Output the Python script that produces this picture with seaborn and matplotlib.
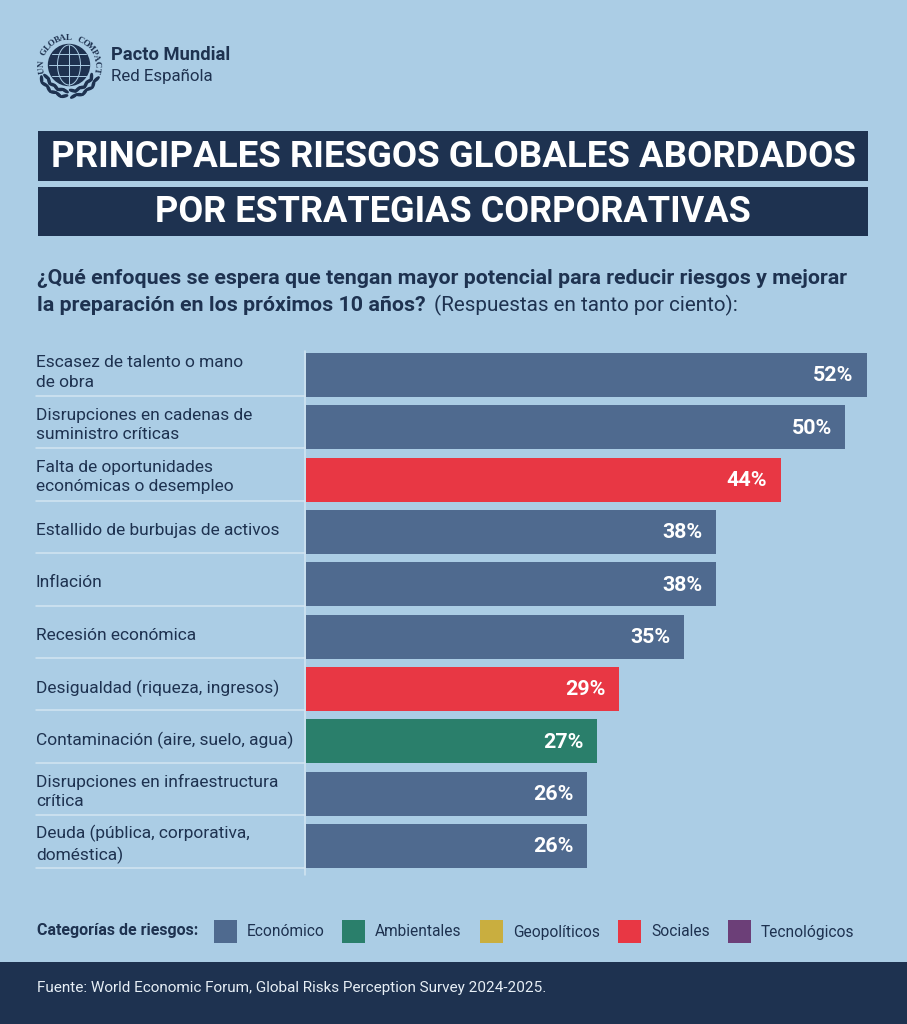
import numpy as np
import pandas as pd
import seaborn as sns
import matplotlib.pyplot as plt
from matplotlib.patches import Rectangle, Circle, Ellipse
from matplotlib.transforms import ScaledTranslation

riesgos = ['Escasez de talento o mano\nde obra', 'Disrupciones en cadenas de\nsuministro críticas',
           'Falta de oportunidades\neconómicas o desempleo', 'Estallido de burbujas de activos',
           'Inflación', 'Recesión económica', 'Desigualdad (riqueza, ingresos)',
           'Contaminación (aire, suelo, agua)', 'Disrupciones en infraestructura\ncrítica',
           'Deuda (pública, corporativa,\ndoméstica)']
valores = [52, 50, 44, 38, 38, 35, 29, 27, 26, 26]
categoria = ['Económico', 'Económico', 'Sociales', 'Económico', 'Económico', 'Económico',
             'Sociales', 'Ambientales', 'Económico', 'Económico']
leyenda = ['Económico', 'Ambientales', 'Geopolíticos', 'Sociales', 'Tecnológicos']
colores = ['#4F6A8F', '#2A7F6B', '#C9AE3F', '#E83744', '#6C3F78']

BG = '#ABCDE5'
DARK = '#1E3250'
LINE = '#D3E5F2'
W, H = 907, 1024

sns.set_theme(style='white')
plt.rcParams['font.family'] = ['Roboto', 'DejaVu Sans']

fig = plt.figure(figsize=(W / 100, H / 100), dpi=100, facecolor=BG)

# overlay in pixel coords for everything that isn't the bars
bg = fig.add_axes([0, 0, 1, 1], zorder=0)
bg.set_xlim(0, W)
bg.set_ylim(H, 0)
bg.axis('off')

# chart
df = pd.DataFrame({'riesgo': riesgos, 'valor': valores, 'categoria': categoria})
ax = fig.add_axes([306 / W, 1 - 872.2 / H, 561 / W, 523.4 / H], zorder=1)
ax.patch.set_alpha(0)
sns.barplot(data=df, y='riesgo', x='valor', hue='categoria', hue_order=leyenda,
            palette=dict(zip(leyenda, colores)), dodge=False, width=0.84,
            legend=False, saturation=1, linewidth=0, ax=ax)
ax.set_xlim(0, 52)
ax.set_ylim(9.5, -0.5)
ax.set_xlabel('')
ax.set_ylabel('')
ax.set_xticks([])
sns.despine(ax=ax, left=True, bottom=True)
ax.tick_params(axis='y', length=0, pad=194.5, labelsize=12.5, labelcolor=DARK)
for lab in ax.get_yticklabels():
    lab.set_ha('left')
    lab.set_linespacing(1.36)
    # two-line labels sit a bit higher than the single ones
    px = 6 if '\n' in lab.get_text() else 3
    lab.set_transform(lab.get_transform() + ScaledTranslation(0, px / 100, fig.dpi_scale_trans))
for i, v in enumerate(valores):
    ax.annotate(f'{v}%', (v, i), xytext=(-9.6, -0.6), textcoords='offset points', ha='right',
                va='center', color='white', fontsize=15.4, fontweight='bold')

# separators and axis line
for i in range(10):
    y = 396 + i * 52.4
    bg.plot([36, 305], [y, y], color=LINE, lw=1.1)
bg.plot([305, 305], [351, 875], color=LINE, lw=1.1)

# header logo
cx, cy = 69, 65
bg.add_patch(Circle((cx, cy), 20.5, color=DARK))
bg.add_patch(Ellipse((cx, cy), 23, 40, fill=False, ec=BG, lw=0.7))
bg.plot([cx, cx], [cy - 20, cy + 20], color=BG, lw=0.7)
for dy in [-11, 0, 11]:
    half = np.sqrt(20 ** 2 - dy ** 2)
    bg.plot([cx - half, cx + half], [cy + dy, cy + dy], color=BG, lw=0.7)
texto = 'UN GLOBAL COMPACT'
angulos = np.linspace(-100, 100, len(texto))
for c, a in zip(texto, angulos):
    r = 27.5
    t = np.radians(a)
    bg.text(cx + r * np.sin(t), cy - r * np.cos(t), c, rotation=-a, rotation_mode='anchor',
            ha='center', va='center', fontsize=6.4, fontweight='bold', color=DARK,
            family='Liberation Serif')
# laurel leaves
for side in [-1, 1]:
    for a, tilt in zip(range(116, 176, 11), [22, -22] * 3):
        t = np.radians(a)
        ang = np.degrees(np.arctan2(np.sin(t), side * np.cos(t)))
        for r, extra in [(25, -1), (30.5, 1)]:
            bg.add_patch(Ellipse((cx + side * r * np.sin(t), cy - r * np.cos(t) + 1), 7, 2.1,
                                 angle=ang + tilt * extra, color=DARK))

bg.text(111, 55, 'Pacto Mundial', fontsize=13.2, fontweight='bold', color=DARK, va='center')
bg.text(111, 76, 'Red Española', fontsize=12.2, color=DARK, va='center')

# title
bg.add_patch(Rectangle((38, 131), 830, 50, color=DARK, lw=0))
bg.add_patch(Rectangle((38, 187), 830, 49, color=DARK, lw=0))
bg.text(453, 157, 'PRINCIPALES RIESGOS GLOBALES ABORDADOS', color='white', fontsize=26.4,
        fontweight='bold', ha='center', va='center')
bg.text(453, 212.5, 'POR ESTRATEGIAS CORPORATIVAS', color='white', fontsize=26,
        fontweight='bold', ha='center', va='center')

# subtitle
bg.text(37, 279, '¿Qué enfoques se espera que tengan mayor potencial para reducir riesgos y mejorar',
        fontsize=15.4, fontweight='bold', color=DARK, va='center')
bg.text(37, 305, 'la preparación en los próximos 10 años?', fontsize=15.4, fontweight='bold',
        color=DARK, va='center')
bg.text(434, 305, '(Respuestas en tanto por ciento):', fontsize=14.9, color=DARK, va='center')

# legend
bg.text(37, 931, 'Categorías de riesgos:', fontsize=11.5, fontweight='bold', color=DARK, va='center')
cajas = [214, 342, 480, 618, 728]
for x, nombre, col in zip(cajas, leyenda, colores):
    bg.add_patch(Rectangle((x, 920), 23, 23, color=col, lw=0))
    bg.text(x + 33, 932, nombre, fontsize=11.2, color=DARK, va='center')

# footer
bg.add_patch(Rectangle((0, 962), W, 62, color=DARK, lw=0))
bg.text(37, 988, 'Fuente: World Economic Forum, Global Risks Perception Survey 2024-2025.',
        fontsize=11, color='#E6EEF5', va='center')

fig.savefig('out.png', dpi=100, facecolor=BG)
